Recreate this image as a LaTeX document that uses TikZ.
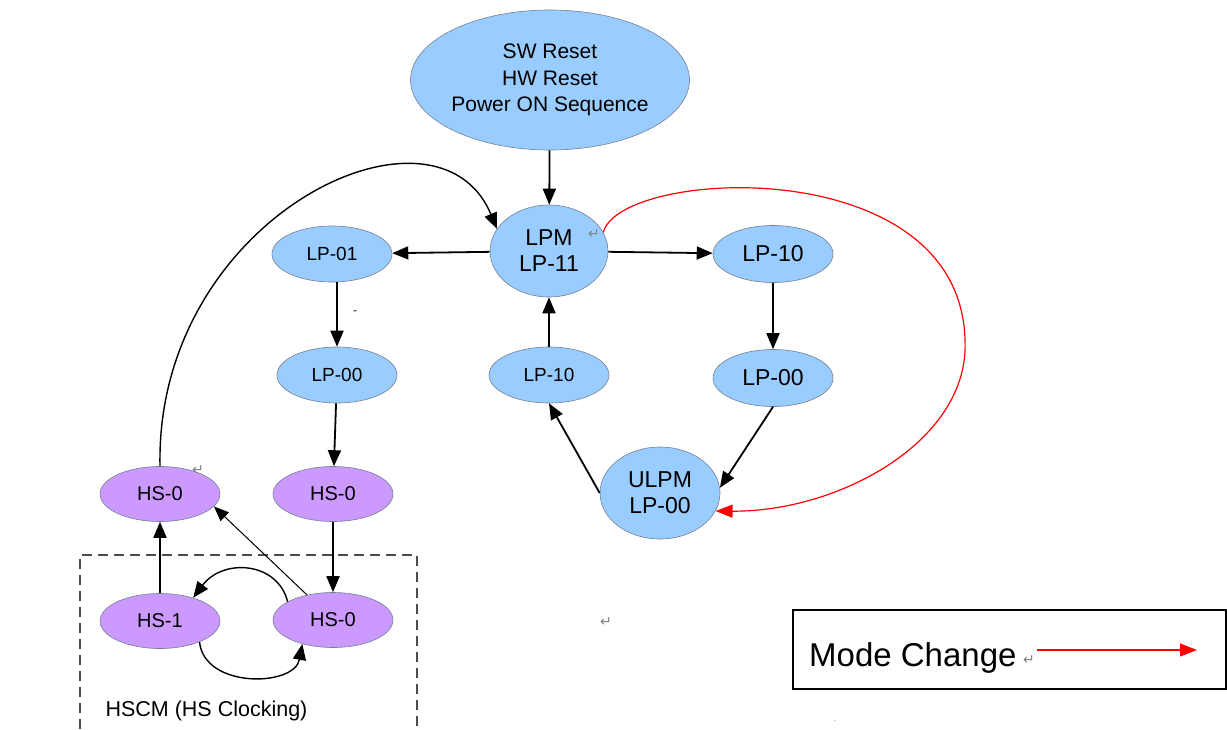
\documentclass[tikz,border=0pt]{standalone}
\usepackage{fontspec}
\setmainfont{Liberation Sans}
\newfontfamily\symfont{DejaVu Sans}
\usepackage{tikz}
\usetikzlibrary{shapes,calc}
\usetikzlibrary{arrows.meta}
\definecolor{lpblue}{RGB}{153,204,255}
\definecolor{hspurple}{RGB}{204,153,255}
\definecolor{rimgray}{RGB}{115,128,150}
\newcommand{\pmark}{{\symfont\fontsize{14}{14}\selectfont\textcolor{gray}{↵}}}

\begin{document}
\begin{tikzpicture}[x=1pt,y=-1pt,
  lp/.style={ellipse,draw=rimgray,fill=lpblue,line width=0.6pt,inner sep=0pt,
    minimum width=120pt,minimum height=56pt,align=center,font=\fontsize{19}{22}\selectfont},
  lpbig/.style={lp,font=\fontsize{23}{26}\selectfont},
  hs/.style={lp,fill=hspurple,minimum height=55pt,font=\fontsize{20}{22}\selectfont},
  arr/.style={line width=1.8pt,-{Triangle[length=16pt,width=13pt]}},
  thinarr/.style={line width=1pt,-{Triangle[length=15pt,width=12pt]}},
  modearr/.style={red,line width=1.2pt,-{Triangle[length=17pt,width=13pt]}}]
  \useasboundingbox (0,0) rectangle (1227,729);

  % reset and the two power modes
  \node[lp,minimum width=272pt,minimum height=140pt,font=\fontsize{21}{26.5}\selectfont]
    (reset) at (550,80) {SW Reset\\HW Reset\\Power ON Sequence};
  \node[lpbig,minimum width=118pt,minimum height=92pt] (lpm) at (549,251) {LPM\\LP-11};
  \node[lpbig,minimum width=120pt,minimum height=92pt] (ulpm) at (660,493) {ULPM\\LP-00};

  % the small LP states
  \foreach \nm/\px/\py/\txt in {lp01/332/254/LP-01, lp00l/337/375/LP-00, lp10m/549/375/LP-10}
    \node[lp] (\nm) at (\px,\py) {\txt};
  \foreach \nm/\px/\py/\txt in {lp10r/773/254/LP-10, lp00r/773/378/LP-00}
    \node[lpbig,minimum height=57pt] (\nm) at (\px,\py) {\txt};

  % HS states
  \node[hs] (hs0a) at (160,494) {HS-0};
  \node[hs] (hs0b) at (333,494) {HS-0};
  \node[hs] (hs1)  at (160,621) {HS-1};
  \node[hs] (hs0c) at (333,620) {HS-0};

  % HS clocking frame, open at the bottom
  \draw[gray!60!black,line width=1.2pt,dash pattern=on 10pt off 6pt]
    (80,729) -- (80,555) -- (417,555) -- (417,729);
  \node[font=\fontsize{21.5}{24}\selectfont,anchor=base west] (hscm) at (102,716) {HSCM (HS Clocking)};

  % transitions
  \draw[arr] (reset) -- (lpm);
  \draw[arr] (lpm) -- (lp01);
  \draw[arr] (lpm) -- (lp10r);
  \draw[arr] (lp10r) -- (lp00r);
  \draw[arr] (lp00r.south) -- (ulpm.5);
  \draw[arr] (ulpm.west) -- (lp10m.south);
  \draw[arr] (lp10m) -- (lpm);
  \draw[arr] (lp01.south -| lp00l) -- (lp00l.north);
  \draw[arr] (lp00l) -- (hs0b);
  \draw[arr] (hs0b) -- (hs0c);
  \draw[arr] (hs1) -- (hs0a);
  \draw[thinarr] (hs0c.136) -- (hs0a.-13);
  \draw[arr,line width=1.4pt] (hs0c.158) .. controls +(-10,-40) and +(30,-40) .. (hs1.35);
  \draw[arr,line width=1.4pt] (hs1.-28) .. controls +(5,47) and +(-8,43) .. (hs0c.218);
  \draw[arr,line width=1.4pt] (hs0a.north) .. controls +(-5,-250) and +(-60,-145) .. (lpm.157);

  % mode change
  \draw[modearr] (lpm.19) .. controls (620,168) and (960,150) .. (965,340)
    .. controls (970,440) and (840,512) .. (ulpm.-18);

  % legend
  \draw[line width=1.2pt] (793,610) rectangle (1226,689);
  \node[font=\fontsize{33}{36}\selectfont,anchor=base west,inner sep=0pt] (modetxt) at (809,666) {Mode Change};
  \coordinate (mcs) at (1037,650);
  \coordinate (mce) at (1197,650);
  \draw[modearr] (mcs) -- (mce);

  % stray editor marks
  \foreach \px/\py [count=\i] in {594/234, 198/470, 606/622, 1029/660}
    \node[inner sep=0pt] (pm\i) at (\px,\py) {\pmark};
  \node[inner sep=0pt,font=\fontsize{12}{12}\selectfont] (dash) at (355,313) {-};
  \node[inner sep=0pt,font=\fontsize{8}{8}\selectfont,gray] (dot) at (835,721) {.};
\end{tikzpicture}
\end{document}
